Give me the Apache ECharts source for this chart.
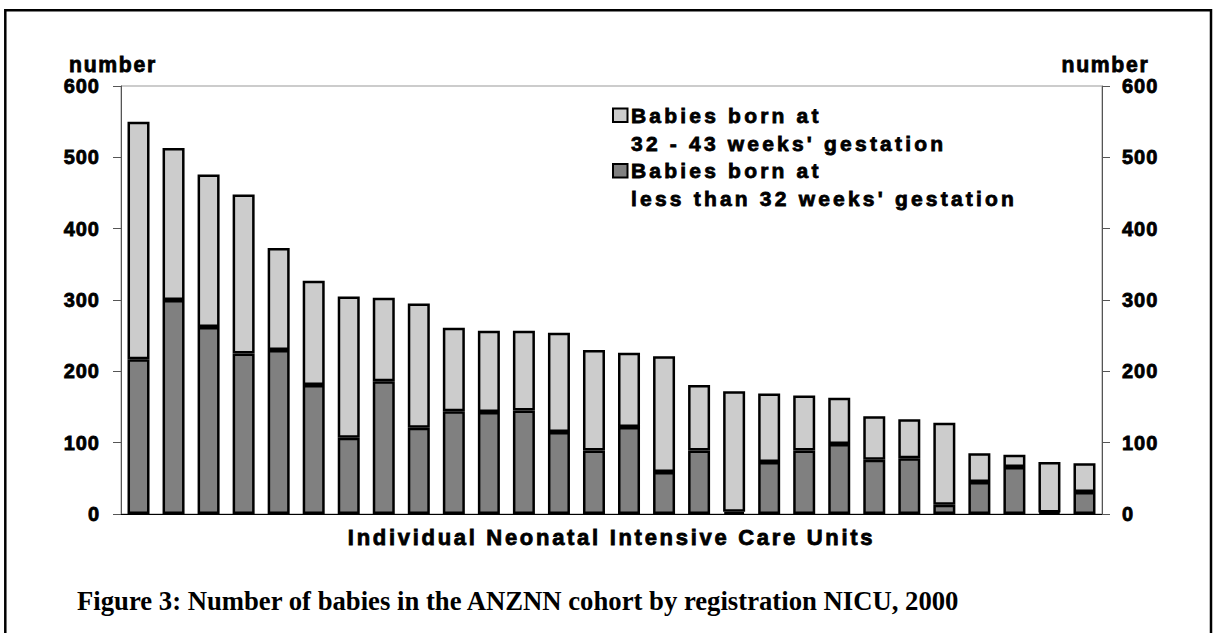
<!DOCTYPE html>
<html>
<head>
<meta charset="utf-8">
<script src="https://cdn.jsdelivr.net/npm/echarts@6/dist/echarts.min.js"></script>
<style>
  html, body { margin: 0; padding: 0; background: #fff; }
  #chart { width: 1213px; height: 633px; }
  /* letter spacing of the original's spaced-out sans text */
  #chart text[style*="20px"] { letter-spacing: 1px; }
  #chart text[style*="21.2px"] { letter-spacing: 1.7px; }
  #chart text[style*="21px"] { letter-spacing: 3.2px; }
  #chart text[style*="22px"] { letter-spacing: 2.7px; }
</style>
</head>
<body>
<div id="chart"></div>
<script>
// ---- data ----
const categories = ['NICU 1','NICU 2','NICU 3','NICU 4','NICU 5','NICU 6','NICU 7','NICU 8','NICU 9','NICU 10',
  'NICU 11','NICU 12','NICU 13','NICU 14','NICU 15','NICU 16','NICU 17','NICU 18','NICU 19','NICU 20',
  'NICU 21','NICU 22','NICU 23','NICU 24','NICU 25','NICU 26','NICU 27','NICU 28'];
const lessThan32 = [217,300,262,225,230,181,107,186,121,144,143,145,115,89,122,59,89,3,73,89,98,76,78,13,45,66,2,31];
const from32to43 = [333,213,214,223,143,146,198,117,174,117,114,112,139,141,104,162,92,169,96,77,65,61,55,115,40,17,71,40];
const seriesNames = ["Babies born at\n32 - 43 weeks' gestation", "Babies born at\nless than 32 weeks' gestation"];
const yTicks = [0,100,200,300,400,500,600];
const axisName = 'number';
const xAxisName = 'Individual Neonatal Intensive Care Units';
const caption = 'Figure 3: Number of babies in the ANZNN cohort by registration NICU, 2000';

const LIGHT = '#cccccc', DARK = '#808080';
const SANS = '"Liberation Sans", Arial, sans-serif';
const SERIF = '"Liberation Serif", "Times New Roman", serif';
const heavy = { textBorderColor: '#000', textBorderWidth: 0.8 };

const chart = echarts.init(document.getElementById('chart'), null, { renderer: 'svg' });

function yAxisDef(pos, labelMargin, namePad) {
  return {
    type: 'value', position: pos,
    min: yTicks[0], max: yTicks[yTicks.length - 1], interval: yTicks[1] - yTicks[0],
    name: axisName, nameLocation: 'end', nameGap: 10,
    nameTextStyle: Object.assign({ fontFamily: SANS, fontWeight: 'bold', fontSize: 21.2, color: '#000', padding: namePad }, heavy),
    axisLine: { show: true, lineStyle: { color: '#555', width: 1 } },
    axisTick: { show: true, inside: false, length: 8, lineStyle: { color: '#555', width: 1 } },
    axisLabel: Object.assign({ margin: labelMargin, fontFamily: SANS, fontWeight: 'bold', fontSize: 20, color: '#000' }, heavy),
    splitLine: { show: false }
  };
}

const option = {
  animation: false,
  backgroundColor: '#fff',
  title: {
    text: caption, left: 77, top: 587, padding: 0,
    textStyle: { fontFamily: SERIF, fontWeight: 'bold', fontSize: 26.7, color: '#000', lineHeight: 27 }
  },
  grid: { left: 121, right: 111, top: 86, bottom: 119, show: true, borderColor: '#999', borderWidth: 1, backgroundColor: 'transparent' },
  xAxis: {
    type: 'category', data: categories,
    name: xAxisName, nameLocation: 'middle', nameGap: 12,
    nameTextStyle: Object.assign({ fontFamily: SANS, fontWeight: 'bold', fontSize: 22, color: '#000' }, heavy),
    axisLine: { show: true, onZero: true, lineStyle: { color: '#000', width: 1 } },
    axisTick: { show: false }, axisLabel: { show: false }, splitLine: { show: false }
  },
  yAxis: [ yAxisDef('left', 21, [0, 16, 0, 0]), yAxisDef('right', 20, [0, 0, 0, 7]) ],
  legend: { show: false },
  series: [
    { name: seriesNames[1], type: 'bar', stack: 'total', data: lessThan32, barWidth: 22,
      itemStyle: { color: DARK, borderColor: '#000', borderWidth: 2.5 } },
    { name: seriesNames[0], type: 'bar', stack: 'total', data: from32to43, barWidth: 22,
      itemStyle: { color: LIGHT, borderColor: '#000', borderWidth: 2.5 } }
  ],
  graphic: [
    { type: 'rect', silent: true, z: 100,
      shape: { x: 5.3, y: 10.3, width: 1205.7, height: 700 },
      style: { fill: 'none', stroke: '#000', lineWidth: 2.5 } },
    { type: 'group', left: 612, top: 101, z: 100, children: [
      { type: 'rect', shape: { x: 0, y: 7.5, width: 14.5, height: 13.5 }, style: { fill: LIGHT, stroke: '#000', lineWidth: 2 } },
      { type: 'text', x: 18, y: 0, style: { text: seriesNames[0], font: 'bold 21px ' + SANS, fill: '#000', stroke: '#000', lineWidth: 0.8, lineHeight: 28, verticalAlign: 'top', align: 'left' } },
      { type: 'rect', shape: { x: 0, y: 63, width: 14.5, height: 13.5 }, style: { fill: DARK, stroke: '#000', lineWidth: 2 } },
      { type: 'text', x: 18, y: 55.5, style: { text: seriesNames[1], font: 'bold 21px ' + SANS, fill: '#000', stroke: '#000', lineWidth: 0.8, lineHeight: 28, verticalAlign: 'top', align: 'left' } }
    ]}
  ]
};
chart.setOption(option);
</script>
</body>
</html>
